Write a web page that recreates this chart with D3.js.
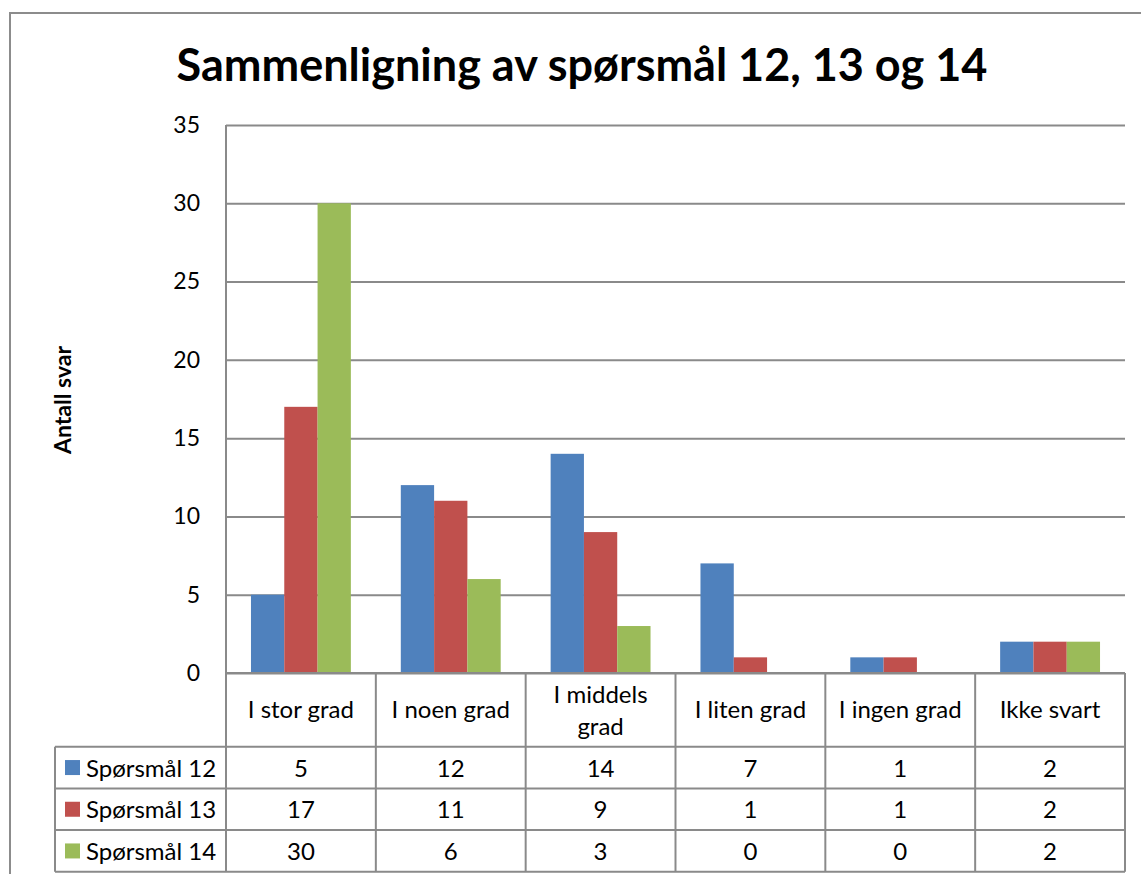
<!DOCTYPE html>
<html>
<head>
<meta charset="utf-8">
<script src="https://cdn.jsdelivr.net/npm/d3@7"></script>
<style>
  body { margin: 0; background: #fff; }
  svg { display: block; font-family: Lato, "Open Sans", sans-serif; }
</style>
</head>
<body>
<svg id="chart" width="1141" height="874"></svg>
<script>
let categories = ['I stor grad', 'I noen grad', 'I middels grad', 'I liten grad', 'I ingen grad', 'Ikke svart'];
let seriesNames = ['Spørsmål 12', 'Spørsmål 13', 'Spørsmål 14'];
let q12 = [5, 12, 14, 7, 1, 2];
let q13 = [17, 11, 9, 1, 1, 2];
let q14 = [30, 6, 3, 0, 0, 2];
let yTicks = [0, 5, 10, 15, 20, 25, 30, 35];
let colors = ['#4f81bd', '#c0504d', '#9bbb59'];

let seriesValues = [q12, q13, q14];
let gridColor = '#8a8a8a';

let plotLeft = 226, plotRight = 1125, plotTop = 125, plotBottom = 673;
let legendLeft = 55;
let headerH = 73.7, rowH = 41.7;
let tableFont = 24;

let svg = d3.select('#chart');

// outer frame
svg.append('rect')
  .attr('x', 10).attr('y', 13)
  .attr('width', 1160).attr('height', 900)
  .attr('fill', 'none')
  .attr('stroke', '#8c8c8c')
  .attr('stroke-width', 2);

let xScale = d3.scaleBand()
  .domain(categories)
  .range([plotLeft, plotRight])
  .paddingInner(1 / 3)
  .paddingOuter(1 / 6);

let xInner = d3.scaleBand()
  .domain(seriesNames)
  .range([0, xScale.bandwidth()]);

let yScale = d3.scaleLinear()
  .domain([0, 35])
  .range([plotBottom, plotTop]);

// title
svg.append('text')
  .attr('x', 582).attr('y', 81)
  .attr('text-anchor', 'middle')
  .attr('font-size', 45)
  .attr('font-weight', 'bold')
  .text('Sammenligning av spørsmål 12, 13 og 14');

// y axis title
svg.append('text')
  .attr('transform', 'translate(71,400) rotate(-90)')
  .attr('text-anchor', 'middle')
  .attr('font-size', 23)
  .attr('font-weight', 'bold')
  .text('Antall svar');

// gridlines
let yAxis = d3.axisLeft(yScale)
  .tickValues(yTicks)
  .tickSize(-(plotRight - plotLeft))
  .tickPadding(26);

let yG = svg.append('g')
  .attr('transform', `translate(${plotLeft},0)`)
  .call(yAxis);
yG.select('.domain').remove();
yG.selectAll('line').attr('stroke', gridColor).attr('stroke-width', 2);
yG.selectAll('text')
  .attr('font-size', 23)
  .attr('font-family', 'Lato, sans-serif')
  .attr('fill', '#000');

// left plot border
svg.append('line')
  .attr('x1', plotLeft).attr('x2', plotLeft)
  .attr('y1', plotTop).attr('y2', plotBottom + headerH + rowH * 3)
  .attr('stroke', gridColor).attr('stroke-width', 2);

// bars
let groups = svg.append('g')
  .selectAll('g')
  .data(categories)
  .join('g')
  .attr('transform', d => `translate(${xScale(d)},0)`);

groups.selectAll('rect')
  .data((d, i) => seriesNames.map((s, j) => ({ s: s, v: seriesValues[j][i], c: colors[j] })))
  .join('rect')
  .attr('x', d => xInner(d.s))
  .attr('y', d => yScale(d.v))
  .attr('width', xInner.bandwidth())
  .attr('height', d => plotBottom - yScale(d.v))
  .attr('fill', d => d.c);

// data table
let step = xScale.step();
let tableBottom = plotBottom + headerH + rowH * 3;
let tbl = svg.append('g').attr('stroke', gridColor).attr('stroke-width', 2);

tbl.append('line')
  .attr('x1', plotLeft).attr('x2', plotRight)
  .attr('y1', plotBottom).attr('y2', plotBottom);

[0, 1, 2, 3].forEach(r => {
  let y = plotBottom + headerH + rowH * r;
  tbl.append('line')
    .attr('x1', legendLeft).attr('x2', plotRight)
    .attr('y1', y).attr('y2', y);
});

categories.forEach(c => {
  let x = xScale(c) - step / 6 + step;
  tbl.append('line')
    .attr('x1', x).attr('x2', x)
    .attr('y1', plotBottom).attr('y2', tableBottom);
});

tbl.append('line')
  .attr('x1', legendLeft).attr('x2', legendLeft)
  .attr('y1', plotBottom + headerH).attr('y2', tableBottom);

// category labels (wrap long ones)
let catText = svg.append('g')
  .selectAll('text')
  .data(categories)
  .join('text')
  .attr('x', d => xScale(d) + xScale.bandwidth() / 2)
  .attr('text-anchor', 'middle')
  .attr('font-size', tableFont);

catText.each(function (d) {
  let t = d3.select(this);
  t.text(d);
  let w = this.getComputedTextLength();
  let mid = plotBottom + headerH / 2;
  let cx = xScale(d) + xScale.bandwidth() / 2;
  if (w > 140) {
    let words = d.split(' ');
    let last = words.pop();
    t.text(null);
    t.append('tspan').attr('x', cx).attr('y', mid - 7).text(words.join(' '));
    t.append('tspan').attr('x', cx).attr('y', mid + 25).text(last);
  } else {
    t.attr('y', mid + 8);
  }
});

// table rows
seriesNames.forEach((s, j) => {
  let yMid = plotBottom + headerH + rowH * j + rowH / 2;
  svg.append('rect')
    .attr('x', 65).attr('y', yMid - 7.5)
    .attr('width', 15).attr('height', 15)
    .attr('fill', colors[j]);
  svg.append('text')
    .attr('x', 86).attr('y', yMid + 9)
    .attr('font-size', tableFont)
    .text(s);
  svg.append('g')
    .selectAll('text')
    .data(seriesValues[j])
    .join('text')
    .attr('x', (d, i) => xScale(categories[i]) + xScale.bandwidth() / 2)
    .attr('y', yMid + 9)
    .attr('text-anchor', 'middle')
    .attr('font-size', tableFont)
    .text(d => d);
});
</script>
</body>
</html>
